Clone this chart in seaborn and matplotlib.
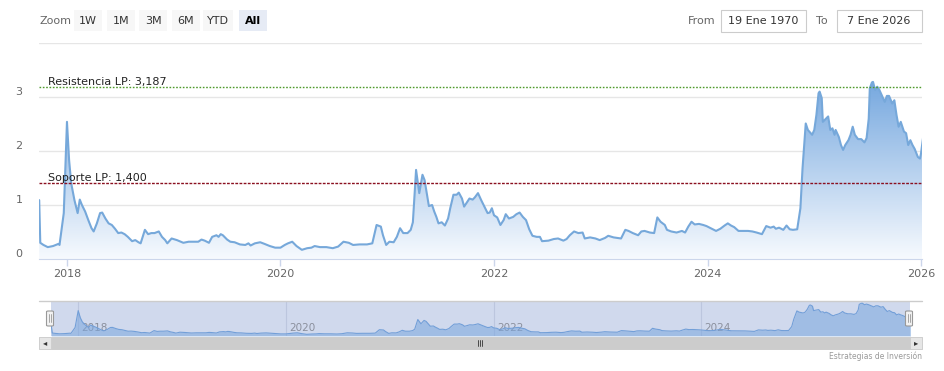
import numpy as np
import seaborn as sns
import matplotlib.pyplot as plt
from matplotlib.colors import LinearSegmentedColormap
from matplotlib.patches import Rectangle, FancyBboxPatch
from matplotlib.lines import Line2D
import matplotlib.transforms as mtransforms

# weekly-ish closes (decimal years)
dates = [
    2017.74, 2017.75, 2017.78, 2017.82, 2017.87, 2017.92, 2017.93, 2017.97, 2018.00, 2018.02,
    2018.04, 2018.07, 2018.10, 2018.12, 2018.14, 2018.17, 2018.20, 2018.23, 2018.25, 2018.28,
    2018.31, 2018.33, 2018.36, 2018.39, 2018.42, 2018.45, 2018.48, 2018.51, 2018.54, 2018.57,
    2018.61, 2018.64, 2018.67, 2018.69, 2018.73, 2018.76, 2018.79, 2018.82, 2018.86, 2018.89,
    2018.92, 2018.94, 2018.98, 2019.03, 2019.09, 2019.14, 2019.18, 2019.23, 2019.26, 2019.29,
    2019.33, 2019.36, 2019.40, 2019.42, 2019.44, 2019.46, 2019.50, 2019.53, 2019.57, 2019.62,
    2019.67, 2019.70, 2019.72, 2019.76, 2019.81, 2019.85, 2019.90, 2019.95, 2020.00, 2020.04,
    2020.07, 2020.11, 2020.15, 2020.20, 2020.25, 2020.29, 2020.32, 2020.37, 2020.43, 2020.49,
    2020.54, 2020.59, 2020.64, 2020.68, 2020.74, 2020.81, 2020.86, 2020.90, 2020.94, 2020.96,
    2020.99, 2021.02, 2021.06, 2021.09, 2021.12, 2021.15, 2021.19, 2021.22, 2021.24, 2021.27,
    2021.30, 2021.33, 2021.35, 2021.37, 2021.39, 2021.42, 2021.44, 2021.46, 2021.48, 2021.51,
    2021.54, 2021.57, 2021.59, 2021.62, 2021.65, 2021.67, 2021.70, 2021.72, 2021.74, 2021.77,
    2021.80, 2021.82, 2021.85, 2021.88, 2021.91, 2021.94, 2021.96, 2021.98, 2022.00, 2022.03,
    2022.06, 2022.09, 2022.11, 2022.14, 2022.18, 2022.21, 2022.24, 2022.27, 2022.30, 2022.33,
    2022.36, 2022.40, 2022.43, 2022.45, 2022.51, 2022.56, 2022.60, 2022.65, 2022.68, 2022.71,
    2022.75, 2022.79, 2022.83, 2022.85, 2022.90, 2022.95, 2022.99, 2023.04, 2023.07, 2023.12,
    2023.19, 2023.23, 2023.26, 2023.30, 2023.35, 2023.38, 2023.41, 2023.46, 2023.50, 2023.53,
    2023.56, 2023.60, 2023.62, 2023.66, 2023.71, 2023.76, 2023.79, 2023.82, 2023.85, 2023.88,
    2023.92, 2023.96, 2023.99, 2024.03, 2024.08, 2024.12, 2024.16, 2024.19, 2024.22, 2024.25,
    2024.29, 2024.34, 2024.38, 2024.42, 2024.46, 2024.51, 2024.55, 2024.59, 2024.62, 2024.64,
    2024.67, 2024.71, 2024.74, 2024.77, 2024.80, 2024.84, 2024.87, 2024.89, 2024.92, 2024.94,
    2024.98, 2025.00, 2025.02, 2025.04, 2025.05, 2025.07, 2025.08, 2025.11, 2025.13, 2025.15,
    2025.17, 2025.19, 2025.20, 2025.23, 2025.25, 2025.27, 2025.29, 2025.32, 2025.34, 2025.36,
    2025.38, 2025.41, 2025.44, 2025.47, 2025.49, 2025.51, 2025.52, 2025.54, 2025.55, 2025.57,
    2025.59, 2025.61, 2025.63, 2025.66, 2025.68, 2025.70, 2025.73, 2025.75, 2025.77, 2025.79,
    2025.81, 2025.84, 2025.86, 2025.88, 2025.90, 2025.92, 2025.94, 2025.97, 2025.99, 2026.00,
    2026.02,
]
price = [
    1.09, 0.30, 0.26, 0.22, 0.24, 0.28, 0.26, 0.85, 2.54, 1.83,
    1.40, 1.09, 0.85, 1.10, 1.00, 0.88, 0.72, 0.57, 0.51, 0.66,
    0.85, 0.86, 0.75, 0.66, 0.63, 0.56, 0.48, 0.49, 0.46, 0.41,
    0.33, 0.35, 0.31, 0.29, 0.54, 0.46, 0.48, 0.48, 0.51, 0.41,
    0.35, 0.29, 0.38, 0.35, 0.30, 0.32, 0.32, 0.32, 0.36, 0.34,
    0.30, 0.41, 0.44, 0.41, 0.46, 0.44, 0.36, 0.32, 0.31, 0.27,
    0.26, 0.29, 0.25, 0.29, 0.31, 0.28, 0.24, 0.21, 0.21, 0.26,
    0.29, 0.32, 0.24, 0.17, 0.20, 0.21, 0.24, 0.22, 0.22, 0.20,
    0.23, 0.32, 0.30, 0.26, 0.27, 0.27, 0.29, 0.63, 0.60, 0.44,
    0.26, 0.32, 0.31, 0.41, 0.57, 0.48, 0.48, 0.54, 0.68, 1.65,
    1.22, 1.56, 1.46, 1.22, 0.98, 1.00, 0.88, 0.78, 0.66, 0.68,
    0.62, 0.75, 0.94, 1.19, 1.19, 1.23, 1.12, 0.97, 1.03, 1.12,
    1.10, 1.14, 1.22, 1.09, 0.97, 0.85, 0.86, 0.94, 0.81, 0.77,
    0.63, 0.72, 0.83, 0.75, 0.78, 0.83, 0.86, 0.78, 0.72, 0.55,
    0.43, 0.41, 0.41, 0.33, 0.34, 0.37, 0.38, 0.34, 0.37, 0.44,
    0.51, 0.48, 0.49, 0.38, 0.40, 0.38, 0.35, 0.39, 0.43, 0.40,
    0.38, 0.54, 0.52, 0.48, 0.44, 0.51, 0.52, 0.49, 0.48, 0.77,
    0.69, 0.63, 0.54, 0.51, 0.49, 0.52, 0.49, 0.60, 0.69, 0.64,
    0.65, 0.63, 0.61, 0.57, 0.52, 0.56, 0.62, 0.66, 0.62, 0.59,
    0.52, 0.52, 0.52, 0.51, 0.49, 0.46, 0.61, 0.58, 0.60, 0.56,
    0.58, 0.54, 0.62, 0.55, 0.54, 0.55, 0.94, 1.68, 2.51, 2.39,
    2.30, 2.39, 2.67, 3.07, 3.10, 2.98, 2.54, 2.60, 2.64, 2.39,
    2.42, 2.30, 2.39, 2.26, 2.11, 2.02, 2.11, 2.20, 2.30, 2.45,
    2.30, 2.22, 2.22, 2.16, 2.24, 2.60, 3.16, 3.27, 3.28, 3.13,
    3.19, 3.13, 3.04, 2.91, 3.02, 3.02, 2.88, 2.94, 2.67, 2.45,
    2.54, 2.36, 2.33, 2.11, 2.20, 2.11, 2.04, 1.89, 1.86, 1.96,
    2.26,
]

resistance = 3.187
support = 1.400
resistance_label = "Resistencia LP: 3,187"
support_label = "Soporte LP: 1,400"
year_ticks = [2018, 2020, 2022, 2024, 2026]
nav_years = [2018, 2020, 2022, 2024]
y_ticks = [0, 1, 2, 3, 4]
y_ticklabels = ["0", "1", "2", "3", ""]
buttons = ["1W", "1M", "3M", "6M", "YTD", "All"]
date_from = "19 Ene 1970"
date_to = "7 Ene 2026"

sns.set_style("white")
plt.rcParams["font.family"] = ["DejaVu Sans"]

W, H = 944, 371
XLIM = (2017.738, 2026.009)


def fx(px):
    return px / W


def fy(py):
    return 1 - py / H


fig = plt.figure(figsize=(W / 100, H / 100), dpi=100)
fig.patch.set_facecolor("white")

# ---- main chart
ax = fig.add_axes([fx(39), fy(259), 883 / W, 216 / H])
x = np.array(dates)
y = np.array(price)

poly = ax.fill_between(x, y, 0, color="none", lw=0)
cmap = LinearSegmentedColormap.from_list("grad", ["#f7fafe", "#76a8df"])
grad = np.linspace(0, 1, 256).reshape(-1, 1)
im = ax.imshow(grad, extent=[XLIM[0], XLIM[1], 0, y.max()], origin="lower",
               aspect="auto", cmap=cmap, zorder=1)
im.set_clip_path(poly.get_paths()[0], transform=ax.transData)

sns.lineplot(x=x, y=y, ax=ax, color="#76a8da", linewidth=1.5, zorder=3)

ax.axhline(resistance, color="#4f9a2c", lw=1, ls=(0, (1.2, 1.2)), zorder=4)
ax.axhline(support, color="#8b1020", lw=1, ls=(0, (2, 1)), zorder=4)
tr = mtransforms.blended_transform_factory(ax.transAxes, ax.transData)
ax.text(0.0102, resistance, resistance_label, transform=tr, fontsize=8,
        color="#222222", va="bottom", ha="left", zorder=5)
ax.text(0.0102, support, support_label, transform=tr, fontsize=8,
        color="#222222", va="bottom", ha="left", zorder=5)

ax.set_xlim(*XLIM)
ax.set_ylim(0, 4)
ax.set_yticks(y_ticks)
ax.set_yticklabels(y_ticklabels)
ax.set_xticks(year_ticks)
ax.set_xticklabels([str(v) for v in year_ticks])
ax.grid(axis="y", color="#e6e6e6", lw=1)
ax.grid(axis="x", visible=False)
ax.set_axisbelow(True)
for s in ["top", "left", "right"]:
    ax.spines[s].set_visible(False)
ax.spines["bottom"].set_color("#ccd6eb")
ax.tick_params(axis="y", length=0, pad=12, labelsize=8, labelcolor="#666666")
ax.tick_params(axis="x", length=5, width=1, color="#ccd6eb", pad=2,
               labelsize=8, labelcolor="#666666", bottom=True)
for lab in ax.get_yticklabels():
    lab.set_verticalalignment("bottom")
ax.set_xlabel("")
ax.set_ylabel("")

# ---- navigator
nav = fig.add_axes([fx(51), fy(336), 859 / W, 35 / H])
nav.set_facecolor("#d0d9ed")
for yr in nav_years:
    nav.axvline(yr, color="#bcc6de", lw=0.8, zorder=1)
    nav.text(yr + 0.03, 0.22, str(yr), transform=mtransforms.blended_transform_factory(nav.transData, nav.transAxes),
             fontsize=7.5, color="#8a8f9c", va="center", ha="left", zorder=2)
nav.fill_between(x, y, 0, color="#7aa6de", alpha=0.55, lw=0, zorder=3)
sns.lineplot(x=x, y=y, ax=nav, color="#729fd8", linewidth=0.8, zorder=4)
nav.set_xlim(*XLIM)
nav.set_ylim(0, 3.5)
nav.set_xticks([])
nav.set_yticks([])
nav.set_xlabel("")
nav.set_ylabel("")
for s in nav.spines.values():
    s.set_visible(False)

# navigator outline and handles
fig.add_artist(Line2D([fx(39), fx(922)], [fy(301), fy(301)], color="#cccccc", lw=1))
for hx in [50, 909]:
    fig.patches.append(FancyBboxPatch((fx(hx - 3.5), fy(326)), 7 / W, 15 / H,
                                      boxstyle="round,pad=0,rounding_size=0.002",
                                      transform=fig.transFigure, fc="#f2f2f2", ec="#999999", lw=0.8))
    for dx in [-1, 1]:
        fig.add_artist(Line2D([fx(hx + dx), fx(hx + dx)], [fy(314), fy(322)], color="#999999", lw=0.6))

# scrollbar
fig.patches.append(Rectangle((fx(39), fy(349)), 883 / W, 12 / H, transform=fig.transFigure,
                             fc="#f2f2f2", ec="#e0e0e0", lw=0.6))
fig.patches.append(Rectangle((fx(51), fy(349)), 859 / W, 12 / H, transform=fig.transFigure,
                             fc="#cccccc", ec="#cccccc", lw=0.6))
for bx in [39, 910]:
    fig.patches.append(Rectangle((fx(bx), fy(349)), 12 / W, 12 / H, transform=fig.transFigure,
                                 fc="#e6e6e6", ec="#cccccc", lw=0.6))
fig.text(fx(45), fy(343), "◂", fontsize=6, color="#333333", ha="center", va="center")
fig.text(fx(916), fy(343), "▸", fontsize=6, color="#333333", ha="center", va="center")
for gx in [-2, 0, 2]:
    fig.add_artist(Line2D([fx(480 + gx), fx(480 + gx)], [fy(340), fy(346)], color="#333333", lw=0.6))

# credit
fig.text(fx(922), fy(356), "Estrategias de Inversión", fontsize=5.5, color="#999999",
         ha="right", va="center")

# ---- range selector
fig.text(fx(40), fy(21), "Zoom", fontsize=8, color="#666666", ha="left", va="center")
centers = [88, 121, 153, 186, 218, 253]
widths = [28, 28, 28, 28, 30, 28]
for lab, cx, bw in zip(buttons, centers, widths):
    sel = lab == "All"
    fig.patches.append(Rectangle((fx(cx - bw / 2), fy(31)), bw / W, 21 / H, transform=fig.transFigure,
                                 fc="#e6ebf5" if sel else "#f7f7f7", ec="none"))
    fig.text(fx(cx), fy(21), lab, fontsize=8, color="#000000" if sel else "#333333",
             fontweight="bold" if sel else "normal", ha="center", va="center")

fig.text(fx(688), fy(21), "From", fontsize=8, color="#666666", ha="left", va="center")
fig.patches.append(Rectangle((fx(721), fy(32)), 85 / W, 22 / H, transform=fig.transFigure,
                             fc="white", ec="#cccccc", lw=0.8))
fig.text(fx(763), fy(21), date_from, fontsize=8, color="#333333", ha="center", va="center")
fig.text(fx(816), fy(21), "To", fontsize=8, color="#666666", ha="left", va="center")
fig.patches.append(Rectangle((fx(837), fy(32)), 85 / W, 22 / H, transform=fig.transFigure,
                             fc="white", ec="#cccccc", lw=0.8))
fig.text(fx(879), fy(21), date_to, fontsize=8, color="#333333", ha="center", va="center")

fig.savefig("out.png", dpi=100)
